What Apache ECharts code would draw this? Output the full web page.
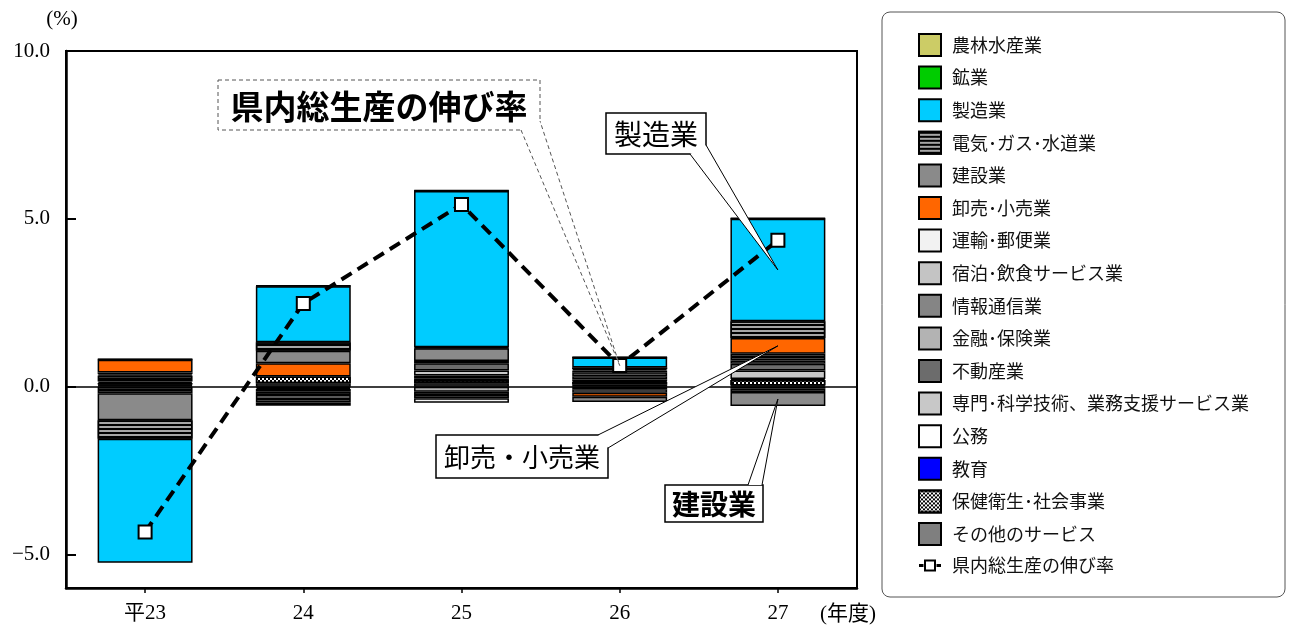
<!DOCTYPE html>
<html>
<head>
<meta charset="utf-8">
<script src="https://cdn.jsdelivr.net/npm/echarts@6/dist/echarts.min.js"></script>
<style>
  html, body { margin: 0; padding: 0; background: #fff; }
  #main { width: 1294px; height: 630px; }
</style>
</head>
<body>
<div id="main"></div>
<script>
// Fiscal years and y-axis ticks
const categories = ['平23', '24', '25', '26', '27'];
const yTicks = [-5, 0, 5, 10];

// Contribution to growth by industry (percentage points)
const agriculture   = [0.01, 0.01, 0.01, 0.01, 0.01];   // 農林水産業
const mining        = [0.01, 0.01, 0.01, 0.00, 0.01];   // 鉱業
const manufacturing = [-3.70, 1.67, 4.66, 0.30, 3.05];  // 製造業
const utilities     = [-0.55, 0.25, 0.03, 0.05, 0.50];  // 電気・ガス・水道業
const construction  = [-0.80, 0.37, 0.38, -0.16, -0.42];// 建設業
const trade         = [0.38, 0.40, 0.06, -0.12, 0.47];  // 卸売・小売業
const transport     = [0.05, -0.05, -0.13, -0.10, 0.10];// 運輸・郵便業
const hospitality   = [-0.10, -0.05, -0.10, -0.08, -0.10]; // 宿泊・飲食サービス業
const infoComm      = [0.04, -0.10, -0.10, 0.04, 0.10]; // 情報通信業
const finance       = [-0.10, -0.12, -0.15, 0.05, 0.10];// 金融・保険業
const realEstate    = [0.10, -0.10, 0.22, 0.12, 0.20];  // 不動産業
const professional  = [0.08, -0.08, 0.15, 0.10, 0.25];  // 専門・科学技術、業務支援サービス業
const government    = [0.04, -0.04, 0.08, 0.05, -0.06]; // 公務
const education     = [0.05, -0.03, 0.05, 0.02, 0.03];  // 教育
const health        = [0.03, 0.20, 0.10, 0.08, 0.17];   // 保健衛生・社会事業
const otherServices = [0.03, 0.10, 0.10, 0.06, 0.03];   // その他のサービス

// Growth rate of gross prefectural product (%)
const growthRate = [-4.33, 2.48, 5.43, 0.63, 4.36];

const stripes = { symbol: 'rect', symbolSize: 1, dashArrayX: [[10, 0]], dashArrayY: [2, 2], color: '#000', rotation: 0 };
const checker = { symbol: 'rect', symbolSize: 1, dashArrayX: [[2, 2], [0, 2, 2, 0]], dashArrayY: [2, 0], color: '#000', rotation: 0 };

// Stack order: first entry sits next to the zero line
const industries = [
  { name: 'その他のサービス', data: otherServices, color: '#7f7f7f' },
  { name: '保健衛生･社会事業', data: health, color: '#ffffff', decal: checker },
  { name: '教育', data: education, color: '#0000ff' },
  { name: '公務', data: government, color: '#ffffff' },
  { name: '専門･科学技術、業務支援サービス業', data: professional, color: '#c8c8c8' },
  { name: '不動産業', data: realEstate, color: '#6c6c6c' },
  { name: '金融･保険業', data: finance, color: '#b3b3b3' },
  { name: '情報通信業', data: infoComm, color: '#858585' },
  { name: '宿泊･飲食サービス業', data: hospitality, color: '#c4c4c4' },
  { name: '運輸･郵便業', data: transport, color: '#f2f2f2' },
  { name: '卸売･小売業', data: trade, color: '#ff6600' },
  { name: '建設業', data: construction, color: '#8a8a8a' },
  { name: '電気･ガス･水道業', data: utilities, color: '#a6a6a6', decal: stripes },
  { name: '製造業', data: manufacturing, color: '#00ccff' },
  { name: '鉱業', data: mining, color: '#00cc00' },
  { name: '農林水産業', data: agriculture, color: '#cccc66' }
];
const growthName = '県内総生産の伸び率';

const legendOrder = [
  '農林水産業', '鉱業', '製造業', '電気･ガス･水道業', '建設業', '卸売･小売業',
  '運輸･郵便業', '宿泊･飲食サービス業', '情報通信業', '金融･保険業', '不動産業',
  '専門･科学技術、業務支援サービス業', '公務', '教育', '保健衛生･社会事業',
  'その他のサービス', growthName
];

const serif = '"Liberation Serif", "DejaVu Serif", "Noto Sans CJK JP", serif';
const gothic = '"Noto Sans CJK JP", "Noto Sans", sans-serif';

// Legend icon for the growth line: short line stubs either side of a hollow square
const lineIcon = 'path://M0,9.5h4.5v3h-4.5z M17.5,9.5h4.5v3h-4.5z M5,5h12v12h-12z M7,7v8h8v-8z';

const barSeries = industries.map(ind => {
  const itemStyle = { color: ind.color, borderColor: '#000', borderWidth: 1.5 };
  if (ind.decal) itemStyle.decal = ind.decal;
  return {
    name: ind.name, type: 'bar', stack: 'total', barWidth: '60%',
    data: ind.data, itemStyle: itemStyle, emphasis: { disabled: true }
  };
});

const chart = echarts.init(document.getElementById('main'));

chart.setOption({
  animation: false,
  backgroundColor: '#fff',
  grid: { left: 66, right: 437, top: 51, bottom: 42, show: true, borderColor: '#000', borderWidth: 2, backgroundColor: 'transparent' },
  legend: {
    orient: 'vertical', left: 913, top: 28, z: 5,
    itemWidth: 22, itemHeight: 22, itemGap: 8.6,
    data: legendOrder.map(n => n === growthName
      ? { name: n, icon: lineIcon, itemStyle: { color: '#000', borderWidth: 0 } }
      : { name: n, icon: 'rect', itemStyle: { borderWidth: 2 } }),
    textStyle: { fontSize: 18, lineHeight: 22, color: '#111', fontFamily: gothic, padding: [0, 0, 0, 6] },
    selectedMode: false
  },
  xAxis: [
    {
      type: 'category', data: categories,
      axisLine: { onZero: false, lineStyle: { color: '#000', width: 2.5 } },
      axisTick: { show: true, alignWithLabel: true, length: 5, lineStyle: { color: '#000', width: 1.5 } },
      axisLabel: { fontSize: 21, color: '#000', fontFamily: serif, margin: 15 }
    },
    {
      type: 'category', data: categories, position: 'bottom',
      axisLine: { onZero: true, lineStyle: { color: '#000', width: 1.5 } },
      axisTick: { show: false }, axisLabel: { show: false }
    }
  ],
  yAxis: {
    type: 'value', min: -6, max: 10,
    axisLine: { show: true, lineStyle: { color: '#000', width: 2.5 } },
    axisTick: { show: true, inside: true, length: 10, customValues: yTicks, lineStyle: { color: '#000', width: 2 } },
    axisLabel: { fontSize: 21, color: '#000', fontFamily: serif, margin: 16, customValues: yTicks,
      formatter: v => v.toFixed(1).replace('-', '\u2212') },
    splitLine: { show: false }
  },
  series: barSeries.concat([{
    name: growthName, type: 'line', data: growthRate, z: 5,
    symbol: 'rect', symbolSize: 13,
    itemStyle: { color: '#fff', borderColor: '#000', borderWidth: 2 },
    lineStyle: { color: '#000', width: 4, type: [12, 7] },
    emphasis: { disabled: true }
  }])
});

// Midpoint of one industry's segment within the stacked bar
function segmentMid(name, cat) {
  let pos = 0, neg = 0;
  for (const ind of industries) {
    const v = ind.data[cat];
    if (ind.name === name) return (v >= 0 ? pos : neg) + v / 2;
    if (v >= 0) pos += v; else neg += v;
  }
  return 0;
}
function toPx(cat, val) {
  return chart.convertToPixel({ xAxisIndex: 0, yAxisIndex: 0 }, [cat, val]);
}

// Callout: box with a wedge pointing at a data location
function callout(box, base, tip, text, font, opts) {
  opts = opts || {};
  const dash = opts.dashed ? [4, 3] : null;
  const stroke = opts.dashed ? '#555' : '#000';
  return [
    { type: 'rect', z: 20, shape: { x: box[0], y: box[1], width: box[2], height: box[3] },
      style: { fill: '#fff', stroke: stroke, lineWidth: opts.dashed ? 1 : 1.5, lineDash: dash } },
    { type: 'polygon', z: 21, shape: { points: [base[0], tip, base[1]] },
      style: { fill: '#fff', stroke: null } },
    { type: 'polyline', z: 22, shape: { points: [base[0], tip, base[1]] },
      style: { fill: null, stroke: stroke, lineWidth: 1, lineDash: dash } },
    { type: 'text', z: 23, x: box[0] + box[2] / 2, y: box[1] + box[3] / 2 + 1,
      style: { text: text, font: font, fill: '#000', align: 'center', verticalAlign: 'middle' } }
  ];
}

const tipGrowth = toPx(3, growthRate[3]);
const tipMfg = toPx(4, segmentMid('製造業', 4));
const tipTrade = toPx(4, segmentMid('卸売･小売業', 4));
const tipCons = toPx(4, segmentMid('建設業', 4));

const graphics = [
  { type: 'rect', z: 0, shape: { x: 882, y: 12, width: 403, height: 585, r: 8 },
    style: { fill: '#fff', stroke: '#555', lineWidth: 1 } },
  { type: 'text', z: 5, x: 62, y: 19,
    style: { text: '(%)', font: '21px ' + serif, fill: '#000', align: 'center', verticalAlign: 'middle' } },
  { type: 'text', z: 5, x: 848, y: 614,
    style: { text: '(年度)', font: '21px ' + serif, fill: '#000', align: 'center', verticalAlign: 'middle' } }
]
  .concat(callout([218, 80, 322, 50], [[521, 130], [540, 121]], tipGrowth, '県内総生産の伸び率', 'bold 33px ' + gothic, { dashed: true }))
  .concat(callout([606, 113, 100, 41], [[690, 154], [706, 145]], tipMfg, '製造業', '28px ' + gothic))
  .concat(callout([436, 435, 172, 43], [[598, 435], [608, 448]], tipTrade, '卸売・小売業', '26px ' + gothic))
  .concat(callout([665, 485, 98, 37], [[748, 485], [762, 485]], tipCons, '建設業', 'bold 28px ' + gothic));

chart.setOption({ graphic: graphics });
</script>
</body>
</html>
